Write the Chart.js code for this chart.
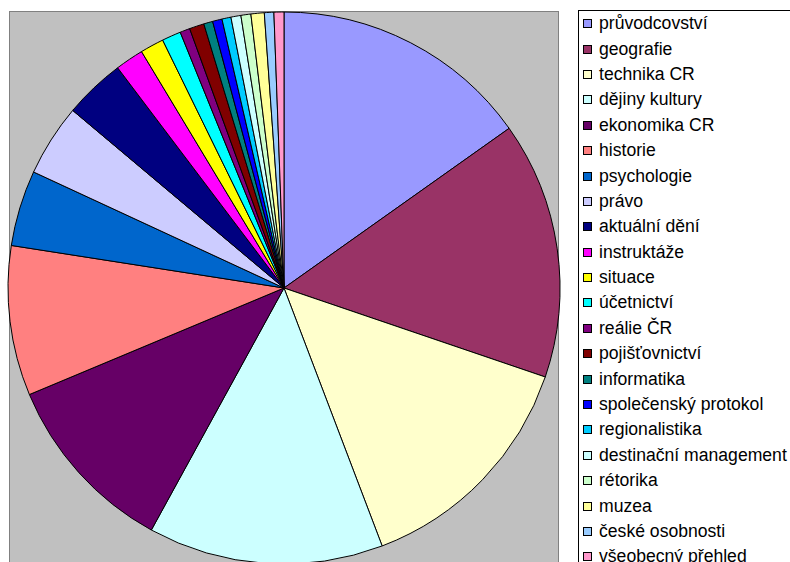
<!DOCTYPE html>
<html>
<head>
<meta charset="utf-8">
<script src="https://cdn.jsdelivr.net/npm/chart.js@4"></script>
<style>
    body { margin: 0; background: #fff; overflow: hidden; width: 790px; height: 562px; position: relative; }
    #pieChart { position: absolute; left: 0; top: 0; }
    #legend {
        position: absolute; left: 578px; top: 10px; width: 230px; height: 580px;
        border: 1px solid #000; background: #fff; box-sizing: border-box;
        font-family: "Liberation Sans", Arial, sans-serif; font-size: 17.6px; color: #000;
        padding-top: 0px;
    }
    .item { height: 25.4px; display: flex; align-items: center; white-space: nowrap; }
    .box { width: 7px; height: 7px; border: 1px solid #000; margin-left: 4px; margin-right: 7px; flex: none; }
</style>
</head>
<body>
<canvas id="pieChart" width="790" height="562"></canvas>
<div id="legend"></div>
<script>
// Subjects (legend order = slice order, clockwise from 12 o'clock)
const subjects = [
    'průvodcovství', 'geografie', 'technika CR', 'dějiny kultury', 'ekonomika CR',
    'historie', 'psychologie', 'právo', 'aktuální dění', 'instruktáže', 'situace',
    'účetnictví', 'reálie ČR', 'pojišťovnictví', 'informatika', 'společenský protokol',
    'regionalistika', 'destinační management', 'rétorika', 'muzea', 'české osobnosti',
    'všeobecný přehled'
];

// Slice sizes
const shares = [
    54.7, 54.2, 50.4, 49.6, 38.6,
    31.6, 16.0, 15.2, 12.9, 6.0, 5.0,
    4.0, 2.1, 3.1, 1.9, 2.0,
    1.9, 2.1, 2.1, 2.8, 2.0,
    2.1
];

// Excel-style palette
const sliceColors = [
    '#9999FF', '#993366', '#FFFFCC', '#CCFFFF', '#660066',
    '#FF8080', '#0066CC', '#CCCCFF', '#000080', '#FF00FF', '#FFFF00',
    '#00FFFF', '#800080', '#800000', '#008080', '#0000FF',
    '#00CCFF', '#CCFFFF', '#CCFFCC', '#FFFF99', '#99CCFF',
    '#FF99CC'
];

// Gray plot area behind the pie
const plotArea = {
    id: 'plotArea',
    beforeDraw(chart) {
        const ctx = chart.ctx;
        ctx.save();
        ctx.fillStyle = '#C0C0C0';
        ctx.fillRect(9, 11, 550, 560);
        ctx.strokeStyle = '#808080';
        ctx.lineWidth = 1;
        ctx.strokeRect(9.5, 11.5, 549, 560);
        ctx.restore();
    }
};

const chart = new Chart(document.getElementById('pieChart').getContext('2d'), {
    type: 'pie',
    data: {
        labels: subjects,
        datasets: [{
            data: shares,
            backgroundColor: sliceColors,
            borderColor: '#000',
            borderWidth: 1,
            clip: false
        }]
    },
    options: {
        responsive: false,
        animation: false,
        radius: 276,
        layout: { padding: { left: 8, right: 230, top: 14, bottom: 0 } },
        plugins: {
            legend: { display: false },
            tooltip: { enabled: false }
        }
    },
    plugins: [plotArea]
});

// Build the legend from the chart data
const legend = document.getElementById('legend');
legend.innerHTML = '';
chart.data.labels.forEach((label, i) => {
    legend.innerHTML += `
        <div class="item">
            <span class="box" style="background:${sliceColors[i]}"></span>
            <span>${label}</span>
        </div>
    `;
});
</script>
</body>
</html>
